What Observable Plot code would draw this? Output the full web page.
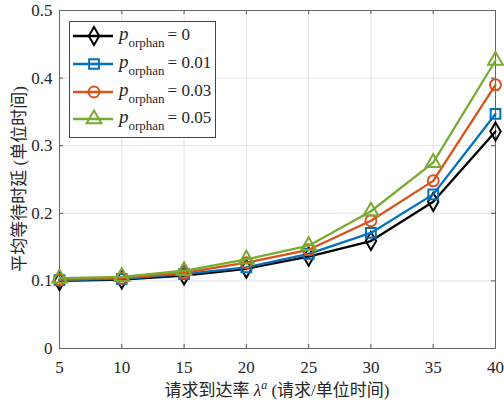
<!DOCTYPE html>
<html><head><meta charset="utf-8">
<script src="https://cdn.jsdelivr.net/npm/d3@7"></script>
<script src="https://cdn.jsdelivr.net/npm/@observablehq/plot@0.6"></script>
<style>body{margin:0;background:#fff}
svg text{font-family:"Liberation Serif","Times New Roman","Noto Sans CJK SC",serif !important;}</style>
</head><body><div id="chart"></div>
<script>
const xValues = [5, 10, 15, 20, 25, 30, 35, 40];
const seriesNames = ["0", "0.01", "0.03", "0.05"];
const p0   = [0.100, 0.102, 0.108, 0.118, 0.136, 0.159, 0.217, 0.321];
const p001 = [0.101, 0.103, 0.110, 0.120, 0.140, 0.171, 0.228, 0.347];
const p003 = [0.102, 0.104, 0.112, 0.127, 0.146, 0.189, 0.248, 0.390];
const p005 = [0.104, 0.106, 0.115, 0.132, 0.152, 0.203, 0.275, 0.426];
const seriesValues = [p0, p001, p003, p005];
const seriesColors = ["#000000", "#0072BD", "#D95319", "#77AC30"];
const seriesSymbols = ["diamond", "square", "circle", "triangle"];
const xTicks = [5, 10, 15, 20, 25, 30, 35, 40];
const yTicks = [0, 0.1, 0.2, 0.3, 0.4, 0.5];
const xLabelMain = "请求到达率 ";
const xLabelUnit = " (请求/单位时间)";
const yLabel = "平均等待时延 (单位时间)";

const rowsBySeries = seriesNames.map((s, i) => xValues.map((x, j) => ({x, y: seriesValues[i][j], s})));

const FONT = '"Liberation Serif", "Times New Roman", "Noto Sans CJK SC", serif';
const seriesMarks = rowsBySeries.flatMap(rows => [
  Plot.line(rows, {x: "x", y: "y", stroke: "s", strokeWidth: 2.3}),
  Plot.dot(rows, {x: "x", y: "y", stroke: "s", symbol: "s", r: 5.5, strokeWidth: 2, fill: "none"})
]);

const plot = Plot.plot({
  width: 504, height: 406,
  marginLeft: 59, marginRight: 9, marginTop: 10, marginBottom: 58,
  style: {fontFamily: FONT, fontSize: "16px", background: "#fff", color: "#262626"},
  x: {domain: [5, 40]},
  y: {domain: [0, 0.5]},
  color: {domain: seriesNames, range: seriesColors},
  symbol: {domain: seriesNames, range: seriesSymbols},
  marks: [
    Plot.gridX(xTicks, {stroke: "#e3e3e3", strokeOpacity: 1}),
    Plot.gridY(yTicks, {stroke: "#e3e3e3", strokeOpacity: 1}),
    Plot.axisX(xTicks, {tickSize: 0, tickPadding: 12, label: null, fontSize: 17}),
    Plot.axisY(yTicks, {tickSize: 0, tickPadding: 7, label: null, fontSize: 17, tickFormat: d => d === 0 ? "0" : d.toFixed(1)}),
    Plot.ruleX(xTicks, {y1: 0, y2: 0.006, stroke: "#555"}),
    Plot.ruleX(xTicks, {y1: 0.494, y2: 0.5, stroke: "#555"}),
    Plot.ruleY(yTicks, {x1: 5, x2: 5.32, stroke: "#555"}),
    Plot.ruleY(yTicks, {x1: 39.68, x2: 40, stroke: "#555"}),
    Plot.frame({stroke: "#666"}),
    ...seriesMarks
  ]
});
document.getElementById("chart").append(plot);

const svg = d3.select(plot);
// axis labels
const xl = svg.append("text").attr("x", 277).attr("y", 396).attr("text-anchor", "middle")
  .attr("font-size", 17).attr("fill", "#262626");
xl.append("tspan").text(xLabelMain);
xl.append("tspan").attr("font-style", "italic").text("λ");
xl.append("tspan").attr("font-style", "italic").attr("font-size", 12).attr("dy", -7).text("a");
xl.append("tspan").attr("dy", 7).text(xLabelUnit);

svg.append("text").attr("transform", "translate(19,179) rotate(-90)").attr("text-anchor", "middle")
  .attr("dominant-baseline", "central").attr("font-size", 17)
  .attr("fill", "#262626").text(yLabel);

// legend
const lg = svg.append("g");
lg.append("rect").attr("x", 69.5).attr("y", 21.5).attr("width", 146).attr("height", 116)
  .attr("fill", "#fff").attr("stroke", "#444").attr("stroke-width", 1);
const symMap = {diamond: d3.symbolDiamond, square: d3.symbolSquare, circle: d3.symbolCircle, triangle: d3.symbolTriangle};
const rowY = [36, 64, 92, 119];
seriesNames.forEach((s, i) => {
  const y = rowY[i];
  lg.append("line").attr("x1", 73).attr("x2", 113).attr("y1", y).attr("y2", y)
    .attr("stroke", seriesColors[i]).attr("stroke-width", 2.3);
  lg.append("path").attr("transform", `translate(94,${y})`)
    .attr("d", d3.symbol().type(symMap[seriesSymbols[i]]).size(Math.PI * 5.5 * 5.5)())
    .attr("fill", "none").attr("stroke", seriesColors[i]).attr("stroke-width", 2);
  const t = lg.append("text").attr("x", 119).attr("y", y + 4).attr("text-anchor", "start")
    .attr("font-size", 17).attr("fill", "#262626");
  t.append("tspan").attr("font-style", "italic").attr("font-size", 19).text("p");
  t.append("tspan").attr("font-size", 13).attr("dy", 7).text("orphan");
  t.append("tspan").attr("dy", -7).attr("dx", 3).text("= " + s);
});
</script>
</body></html>
